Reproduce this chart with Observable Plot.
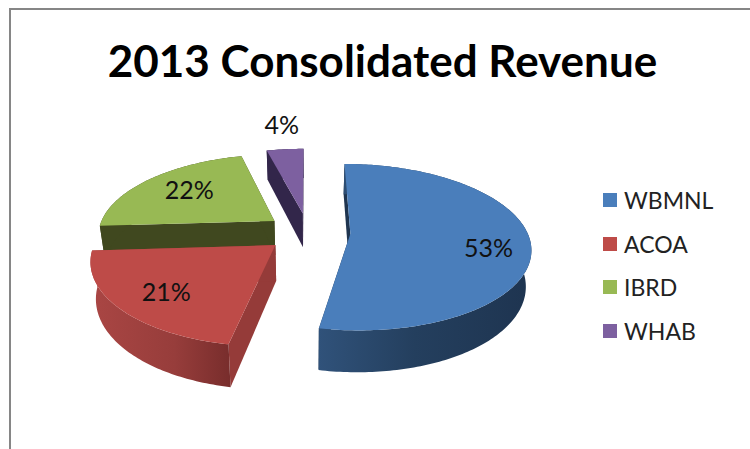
<!DOCTYPE html>
<html>
<head>
<meta charset="utf-8">
<script src="https://cdn.jsdelivr.net/npm/d3@7"></script>
<script src="https://cdn.jsdelivr.net/npm/@observablehq/plot@0.6"></script>
<style>
  html, body { margin: 0; padding: 0; background: #fff; overflow: hidden; }
  #page { position: relative; width: 750px; height: 449px; font-family: Lato, sans-serif; color: #111; }
  #frame { position: absolute; left: 9px; top: 8px; right: -4px; bottom: -4px; border-left: 2px solid #868686; border-top: 2px solid #868686; }
  #title { position: absolute; left: 0; width: 765px; top: 34px; text-align: center; font-size: 44px; font-weight: 700; line-height: 52px; color: #000; white-space: nowrap; }
  #chart { position: absolute; left: 0; top: 0; }
  #legend { position: absolute; left: 603px; top: 178px; }
  .row { display: flex; align-items: center; height: 43.7px; font-size: 23px; color: #222; }
  .sw { width: 14px; height: 14px; margin-right: 7px; box-shadow: 0 0 0 1px rgba(255,255,255,.8); }
</style>
</head>
<body>
<div id="page">
  <div id="frame"></div>
  <div id="title"></div>
  <div id="chart"></div>
  <div id="legend"></div>
</div>
<script>
const titleText = "2013 Consolidated Revenue";
const categories = ["WBMNL", "ACOA", "IBRD", "WHAB"];
const values = [53, 21, 22, 4];

const topColors = ["#4a7ebb", "#be4b48", "#98b954", "#7d60a0"];
const sideColors = ["#1f3550", "#953b39", "#40481f", "#32264a"];
const labelRadii = [0.77, 0.72, 0.66, 1.5];
const labelNudgeX = [0, 0, 0, 4];
const labelNudgeY = [9, 4, -2, 3];
const paintOrder = [3, 2, 0, 1];

// Perspective view of the pie plane
const view = {cx: 307.5, cy: 231.5, rx: 176.8, ry: 80.5, k: 0.16, explode: 0.24, depth: 35, shrink: 0.025};
function project(X, Y, d) {
  const s = 1 / (1 - view.k * Y);
  return {
    x: view.cx + view.rx * X * s * (1 - view.shrink * d),
    y: view.cy + view.ry * Y * s + view.depth * s * d
  };
}

const arcs = d3.pie().sort(null)(values);
const deg = Math.PI / 180;

function slice(i) {
  const a = arcs[i];
  const mid = (a.startAngle + a.endAngle) / 2;
  const ox = view.explode * Math.sin(mid);
  const oy = -view.explode * Math.cos(mid);
  const pt = (t, r, d) => project(ox + r * Math.sin(t), oy - r * Math.cos(t), d);
  const n = Math.max(2, Math.ceil((a.endAngle - a.startAngle) / deg));
  const ts = d3.range(n + 1).map(j => a.startAngle + (a.endAngle - a.startAngle) * j / n);
  const apex0 = pt(0, 0, 0), apex1 = pt(0, 0, 1);
  const edge = t => [apex0, pt(t, 1, 0), pt(t, 1, 1), apex1, apex0];
  const outer = [...ts.map(t => pt(t, 1, 0)), ...ts.slice().reverse().map(t => pt(t, 1, 1))];
  outer.push(outer[0]);
  const top = [apex0, ...ts.map(t => pt(t, 1, 0)), apex0];
  const label = pt(mid, labelRadii[i], 0);
  return {startWall: edge(a.startAngle), endWall: edge(a.endAngle), outer, top, label};
}

const slices = categories.map((_, i) => slice(i));
const wallGradients = {
  0: [["0%", "#30527a"], ["45%", "#243f5e"], ["100%", "#1e3450"]],
  1: [["0%", "#aa4644"], ["60%", "#973d3b"], ["100%", "#782d2c"]]
};

function defsMark() {
  const defs = d3.create("svg:defs");
  Object.entries(wallGradients).forEach(([i, stops]) => {
    const g = defs.append("linearGradient").attr("id", "wall" + i)
      .attr("x1", "0%").attr("x2", "100%").attr("y1", "0%").attr("y2", "0%");
    stops.forEach(([o, c]) => g.append("stop").attr("offset", o).attr("stop-color", c));
  });
  return defs.node();
}

const poly = (pts, fill) => Plot.line(pts, {x: "x", y: "y", fill, stroke: "none", curve: "linear"});

const marks = [defsMark];
paintOrder.forEach(i => {
  const s = slices[i];
  const wallFill = wallGradients[i] ? `url(#wall${i})` : sideColors[i];
  marks.push(poly(s.startWall, sideColors[i]));
  marks.push(poly(s.endWall, sideColors[i]));
  marks.push(poly(s.outer, wallFill));
  marks.push(poly(s.top, topColors[i]));
});
marks.push(Plot.text(categories.map((c, i) => ({
  x: slices[i].label.x + labelNudgeX[i],
  y: slices[i].label.y + labelNudgeY[i],
  t: Math.round(values[i]) + "%"
})), {x: "x", y: "y", text: "t", fontSize: 25, fontFamily: "Lato, sans-serif", fill: "#111"}));

const svg = Plot.plot({
  width: 750,
  height: 449,
  margin: 0,
  style: {background: "transparent", overflow: "visible"},
  x: {domain: [0, 750], range: [0, 750], axis: null},
  y: {domain: [0, 449], range: [0, 449], axis: null},
  marks
});
document.getElementById("chart").appendChild(svg);
document.getElementById("title").textContent = titleText;

const legend = d3.select("#legend");
categories.forEach((c, i) => {
  const r = legend.append("div").attr("class", "row");
  r.append("div").attr("class", "sw").style("background", topColors[i]);
  r.append("span").text(c);
});
</script>
</body>
</html>
